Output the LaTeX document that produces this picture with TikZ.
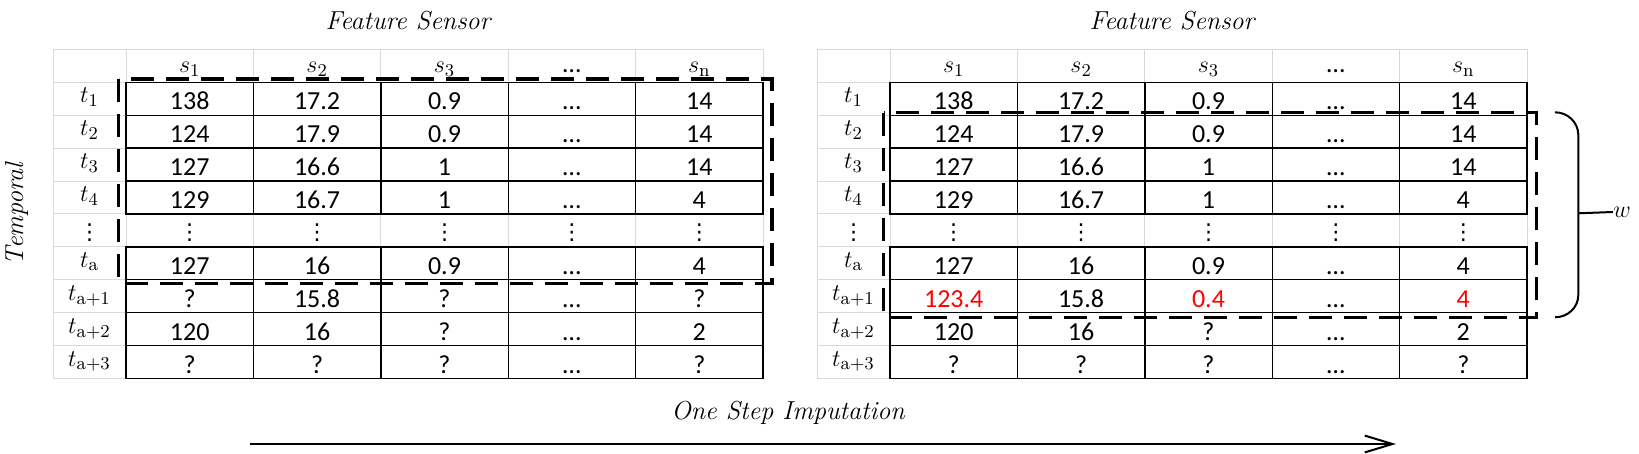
\documentclass[tikz,border=0pt]{standalone}
\usepackage{fontspec}
\newfontfamily\cellfont{Carlito}
\newfontfamily\dotsfont{DejaVu Sans}
\usetikzlibrary{arrows.meta}
\definecolor{imputed}{RGB}{255,0,0}
\definecolor{lightgrid}{RGB}{217,217,217}
% value shown in the left table / imputed value in the right table
\newcommand\guess[2]{\ifnum\ox=0 #1\else\textcolor{imputed}{#2}\fi}
\tikzset{
	graygrid/.style={draw=lightgrid, line width=0.5pt},
	blackgrid/.style={draw=black, line width=0.7pt},
	window/.style={draw=black, line width=1.6pt, dash pattern=on 11.5pt off 6pt},
	cell/.style={anchor=base, inner sep=0pt, font=\cellfont\fontsize{13}{15}\selectfont},
	rowlab/.style={anchor=base, inner sep=0pt, font=\fontsize{13}{15}\selectfont},
	vdot/.style={anchor=base, inner sep=0pt, font=\dotsfont\fontsize{11}{13}\selectfont},
	caption/.style={inner sep=0pt, font=\itshape\fontsize{13}{15}\selectfont},
	onestep/.style={draw=black, line width=1pt, -{Straight Barb[length=13.9pt,width=8.4pt]}},
}
\begin{document}
\begin{tikzpicture}[x=0.5pt,y=-0.5pt]
	\useasboundingbox (0,0) rectangle (1639,454);
	\foreach \ox/\tb in {0/L,764/R}{
		% grey frame: header row, label column and dots row
		\draw[graygrid] (\ox+53.5,49.5) -- (\ox+763,49.5);
		\draw[graygrid] (\ox+53.5,49.5) -- (\ox+53.5,378.5);
		\draw[graygrid] (\ox+126,49.5) -- (\ox+126,378.5);
		\foreach \k in {1,...,5}
			\draw[graygrid] (\ox+126+127.4*\k,49.5) -- (\ox+126+127.4*\k,82.4);
		\foreach \k in {1,...,5}
			\draw[graygrid] (\ox+126+127.4*\k,214) -- (\ox+126+127.4*\k,246.9);
		\foreach \r in {1,...,10}
			\draw[graygrid] (\ox+53.5,49.5+32.9*\r) -- (\ox+126,49.5+32.9*\r);
		% black cells
		\foreach \r in {1,2,3,4,6,7,8,9}{
			\draw[blackgrid] (\ox+126,49.5+32.9*\r) rectangle (\ox+763,82.4+32.9*\r);
			\foreach \k in {1,...,4}
				\draw[blackgrid] (\ox+126+127.4*\k,49.5+32.9*\r) -- (\ox+126+127.4*\k,82.4+32.9*\r);
		}
		\draw[line width=1.2pt] (\ox+126,214) -- (\ox+763,214);
		% header
		\node[caption] (\tb-title) at (\ox+408,20.7) {Feature Sensor};
		\foreach \s [count=\c] in {$s_{1}$,$s_{2}$,$s_{3}$,{\cellfont …},$s_{\mathrm{n}}$}
			\node[rowlab] (\tb-h\c) at (\ox+126+127.4*\c-63.7,73) {\s};
		% rows
		\foreach \r/\lab/\vals in {
			1/{t_{1}}/{138,17.2,0.9,…,14},
			2/{t_{2}}/{124,17.9,0.9,…,14},
			3/{t_{3}}/{127,16.6,1,…,14},
			4/{t_{4}}/{129,16.7,1,…,4},
			6/{t_{\mathrm{a}}}/{127,16,0.9,…,4},
			7/{t_{\mathrm{a+1}}}/{\guess{?}{123.4},15.8,\guess{?}{0.4},…,\guess{?}{4}},
			8/{t_{\mathrm{a+2}}}/{120,16,?,…,2},
			9/{t_{\mathrm{a+3}}}/{?,?,?,…,?}}{
			\node[rowlab] (\tb-t\r) at (\ox+89.5,49.5+32.9*\r+20.5) {$\lab$};
			\foreach \v [count=\c] in \vals
				\node[cell] (\tb-\r-\c) at (\ox+126+127.4*\c-63.7,49.5+32.9*\r+27.5) {\v};
		}
		\node[vdot] (\tb-t5) at (\ox+89.5,240) {⋮};
		\foreach \c in {1,...,5}
			\node[vdot] (\tb-5-\c) at (\ox+126+127.4*\c-63.7,240) {⋮};
	}
	% sliding windows
	\draw[window] (118.8,79) rectangle (772,283.3);
	\draw[window] (883.6,112.7) rectangle (1536.7,317.3);
	% window size
	\coordinate (wtop) at (1555,112.3);
	\coordinate (wbot) at (1555,317.3);
	\node[caption, font=\fontsize{13}{15}\selectfont] (w) at (1622,212) {$w$};
	\draw[line width=1pt] (wtop) to[out=0,in=90] (1578.3,135) -- (1578.3,295) to[out=-90,in=0] (wbot);
	\draw[line width=1pt] (1578.3,213.3) -- (w.west);
	\node[caption] (temporal) at (16.7,214) [rotate=90] {Temporal};
	\node[caption] (imp) at (788,413) {One Step Imputation};
	\coordinate (start) at (250,444);
	\coordinate (stop) at (1396,444);
	\draw[onestep] (start) -- (stop);
\end{tikzpicture}
\end{document}
